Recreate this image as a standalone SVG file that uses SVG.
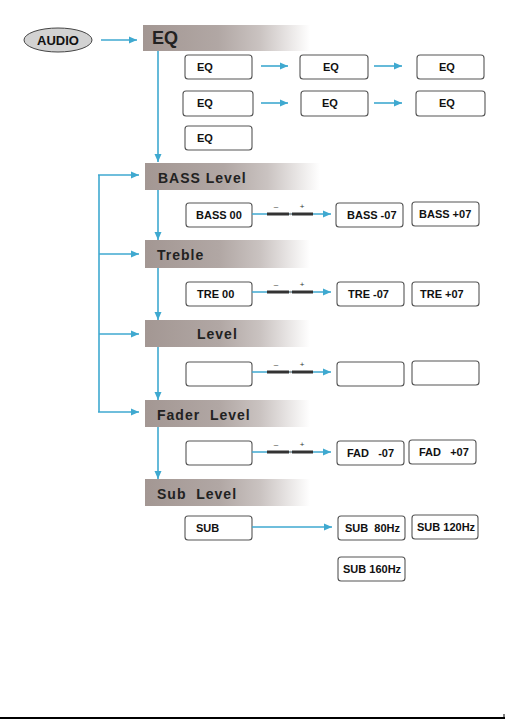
<svg xmlns="http://www.w3.org/2000/svg" width="505" height="719" viewBox="0 0 505 719">
<style>
.bar{fill:url(#bg)}
.bt{font-family:"Liberation Sans",Arial,sans-serif;font-weight:bold;font-size:14px;letter-spacing:1px;fill:#222}
.box{fill:#fff;stroke:#555;stroke-width:1.1}
.t{font-family:"Liberation Sans",Arial,sans-serif;font-weight:bold;font-size:11px;fill:#111}
.c{fill:none;stroke:#3fa9d0;stroke-width:1.6}
.ca{fill:none;stroke:#3fa9d0;stroke-width:1.6;marker-end:url(#ah)}
.thk{stroke:#333;stroke-width:3}
.pm{font-family:"Liberation Sans",Arial,sans-serif;font-size:8px;fill:#333}
</style>
<defs>
<linearGradient id="bg" x1="0" y1="0" x2="1" y2="0">
<stop offset="0" stop-color="#a39793"/>
<stop offset="0.45" stop-color="#b1a7a4"/>
<stop offset="0.7" stop-color="#cac3c1"/>
<stop offset="1" stop-color="#ffffff"/>
</linearGradient>
<marker id="ah" markerUnits="userSpaceOnUse" markerWidth="9" markerHeight="8" refX="8" refY="4" orient="auto">
<path d="M0,0.5 L8,4 L0,7.5 z" fill="#3fa9d0"/>
</marker>
</defs>
<rect width="505" height="719" fill="#fff"/>

<g id="audio">
<ellipse cx="58" cy="40" rx="34" ry="12" fill="#d2d2d2" stroke="#444" stroke-width="1"/>
<text x="58" y="45" text-anchor="middle" class="t" style="font-size:13px">AUDIO</text>
</g>

<g id="eq-bar"><rect class="bar" x="143" y="25" width="167" height="26"/><text x="152" y="44" class="bt" style="font-size:18px;letter-spacing:0">EQ</text></g>
<g id="bass-bar"><rect class="bar" x="145" y="163" width="175" height="27"/><text x="158" y="183" class="bt">BASS Level</text></g>
<g id="treble-bar"><rect class="bar" x="145" y="240" width="165" height="28"/><text x="157" y="260" class="bt">Treble</text></g>
<g id="level-bar"><rect class="bar" x="145" y="320" width="165" height="27"/><text x="197" y="339" class="bt">Level</text></g>
<g id="fader-bar"><rect class="bar" x="145" y="400" width="165" height="27"/><text x="157" y="420" class="bt" xml:space="preserve">Fader  Level</text></g>
<g id="sub-bar"><rect class="bar" x="145" y="479" width="165" height="27"/><text x="157" y="499" class="bt" xml:space="preserve">Sub  Level</text></g>

<g id="eq1"><rect class="box" x="185" y="55" width="67" height="24" rx="3"/><text x="197" y="71" class="t">EQ</text></g>
<g id="eq2"><rect class="box" x="300" y="55" width="68" height="24" rx="3"/><text x="323" y="71" class="t">EQ</text></g>
<g id="eq3"><rect class="box" x="417" y="55" width="67" height="24" rx="3"/><text x="439" y="71" class="t">EQ</text></g>
<g id="eq4"><rect class="box" x="183" y="91" width="70" height="25" rx="3"/><text x="197" y="107" class="t">EQ</text></g>
<g id="eq5"><rect class="box" x="301" y="91" width="67" height="25" rx="3"/><text x="322" y="107" class="t">EQ</text></g>
<g id="eq6"><rect class="box" x="416" y="91" width="69" height="25" rx="3"/><text x="439" y="107" class="t">EQ</text></g>
<g id="eq7"><rect class="box" x="185" y="126" width="67" height="24" rx="3"/><text x="197" y="142" class="t">EQ</text></g>

<g id="bass00"><rect class="box" x="186" y="203" width="66" height="24" rx="3"/><text x="196" y="219" class="t">BASS 00</text></g>
<g id="bassm"><rect class="box" x="336" y="203" width="67" height="24" rx="3"/><text x="347" y="219" class="t">BASS -07</text></g>
<g id="bassp"><rect class="box" x="412" y="202" width="67" height="24" rx="3"/><text x="419" y="218" class="t">BASS +07</text></g>

<g id="tre00"><rect class="box" x="186" y="282" width="66" height="24" rx="3"/><text x="197" y="298" class="t">TRE 00</text></g>
<g id="trem"><rect class="box" x="337" y="282" width="67" height="24" rx="3"/><text x="348" y="298" class="t">TRE -07</text></g>
<g id="trep"><rect class="box" x="412" y="282" width="67" height="24" rx="3"/><text x="420" y="298" class="t">TRE +07</text></g>

<g id="lv0"><rect class="box" x="186" y="362" width="66" height="24" rx="3"/></g>
<g id="lvm"><rect class="box" x="337" y="362" width="67" height="24" rx="3"/></g>
<g id="lvp"><rect class="box" x="412" y="361" width="67" height="24" rx="3"/></g>

<g id="fad0"><rect class="box" x="186" y="441" width="66" height="24" rx="3"/></g>
<g id="fadm"><rect class="box" x="337" y="441" width="67" height="24" rx="3"/><text x="347" y="457" class="t" xml:space="preserve">FAD   -07</text></g>
<g id="fadp"><rect class="box" x="409" y="440" width="67" height="24" rx="3"/><text x="419" y="456" class="t" xml:space="preserve">FAD   +07</text></g>

<g id="sub"><rect class="box" x="185" y="516" width="67" height="24" rx="3"/><text x="196" y="532" class="t">SUB</text></g>
<g id="sub80"><rect class="box" x="338" y="516" width="67" height="24" rx="3"/><text x="345" y="532" class="t" xml:space="preserve">SUB  80Hz</text></g>
<g id="sub120"><rect class="box" x="412" y="515" width="66" height="24" rx="3"/><text x="417" y="531" class="t">SUB 120Hz</text></g>
<g id="sub160"><rect class="box" x="338" y="557" width="67" height="24" rx="3"/><text x="343" y="573" class="t">SUB 160Hz</text></g>

<g id="connectors">
<line class="ca" x1="101" y1="40" x2="137" y2="40"/>
<line class="ca" x1="158" y1="51" x2="158" y2="162"/>
<line class="ca" x1="158" y1="190" x2="158" y2="240"/>
<line class="ca" x1="158" y1="268" x2="158" y2="320"/>
<line class="ca" x1="158" y1="347" x2="158" y2="400"/>
<line class="ca" x1="158" y1="427" x2="158" y2="479"/>
<line class="ca" x1="261" y1="66" x2="288" y2="66"/>
<line class="ca" x1="374" y1="66" x2="402" y2="66"/>
<line class="ca" x1="261" y1="103" x2="288" y2="103"/>
<line class="ca" x1="374" y1="103" x2="402" y2="103"/>
<line class="c" x1="99" y1="175" x2="99" y2="412"/>
<line class="ca" x1="98" y1="175" x2="139" y2="175"/>
<line class="ca" x1="99" y1="254" x2="139" y2="254"/>
<line class="ca" x1="99" y1="334" x2="139" y2="334"/>
<line class="ca" x1="98" y1="412" x2="139" y2="412"/>
<line class="ca" x1="252" y1="527" x2="332" y2="527"/>
<g id="slider-bass">
<line class="ca" x1="252" y1="214" x2="331" y2="214"/>
<line class="thk" x1="267" y1="214" x2="289" y2="214"/><line class="thk" x1="292" y1="214" x2="313" y2="214"/>
<circle cx="290.5" cy="214" r="1.3" fill="#999"/>
<text x="276" y="209" class="pm" text-anchor="middle">–</text><text x="302" y="209" class="pm" text-anchor="middle">+</text>
</g>
<g id="slider-tre">
<line class="ca" x1="252" y1="292" x2="331" y2="292"/>
<line class="thk" x1="267" y1="292" x2="289" y2="292"/><line class="thk" x1="292" y1="292" x2="313" y2="292"/>
<circle cx="290.5" cy="292" r="1.3" fill="#999"/>
<text x="276" y="287" class="pm" text-anchor="middle">–</text><text x="302" y="287" class="pm" text-anchor="middle">+</text>
</g>
<g id="slider-lv">
<line class="ca" x1="252" y1="372" x2="331" y2="372"/>
<line class="thk" x1="267" y1="372" x2="289" y2="372"/><line class="thk" x1="292" y1="372" x2="313" y2="372"/>
<circle cx="290.5" cy="372" r="1.3" fill="#999"/>
<text x="276" y="367" class="pm" text-anchor="middle">–</text><text x="302" y="367" class="pm" text-anchor="middle">+</text>
</g>
<g id="slider-fad">
<line class="ca" x1="252" y1="452" x2="331" y2="452"/>
<line class="thk" x1="267" y1="452" x2="289" y2="452"/><line class="thk" x1="292" y1="452" x2="313" y2="452"/>
<circle cx="290.5" cy="452" r="1.3" fill="#999"/>
<text x="276" y="447" class="pm" text-anchor="middle">–</text><text x="302" y="447" class="pm" text-anchor="middle">+</text>
</g>
</g>

<line x1="0" y1="718" x2="505" y2="718" stroke="#000" stroke-width="2"/>
<line x1="504" y1="714" x2="504" y2="719" stroke="#000" stroke-width="1"/>
</svg>
